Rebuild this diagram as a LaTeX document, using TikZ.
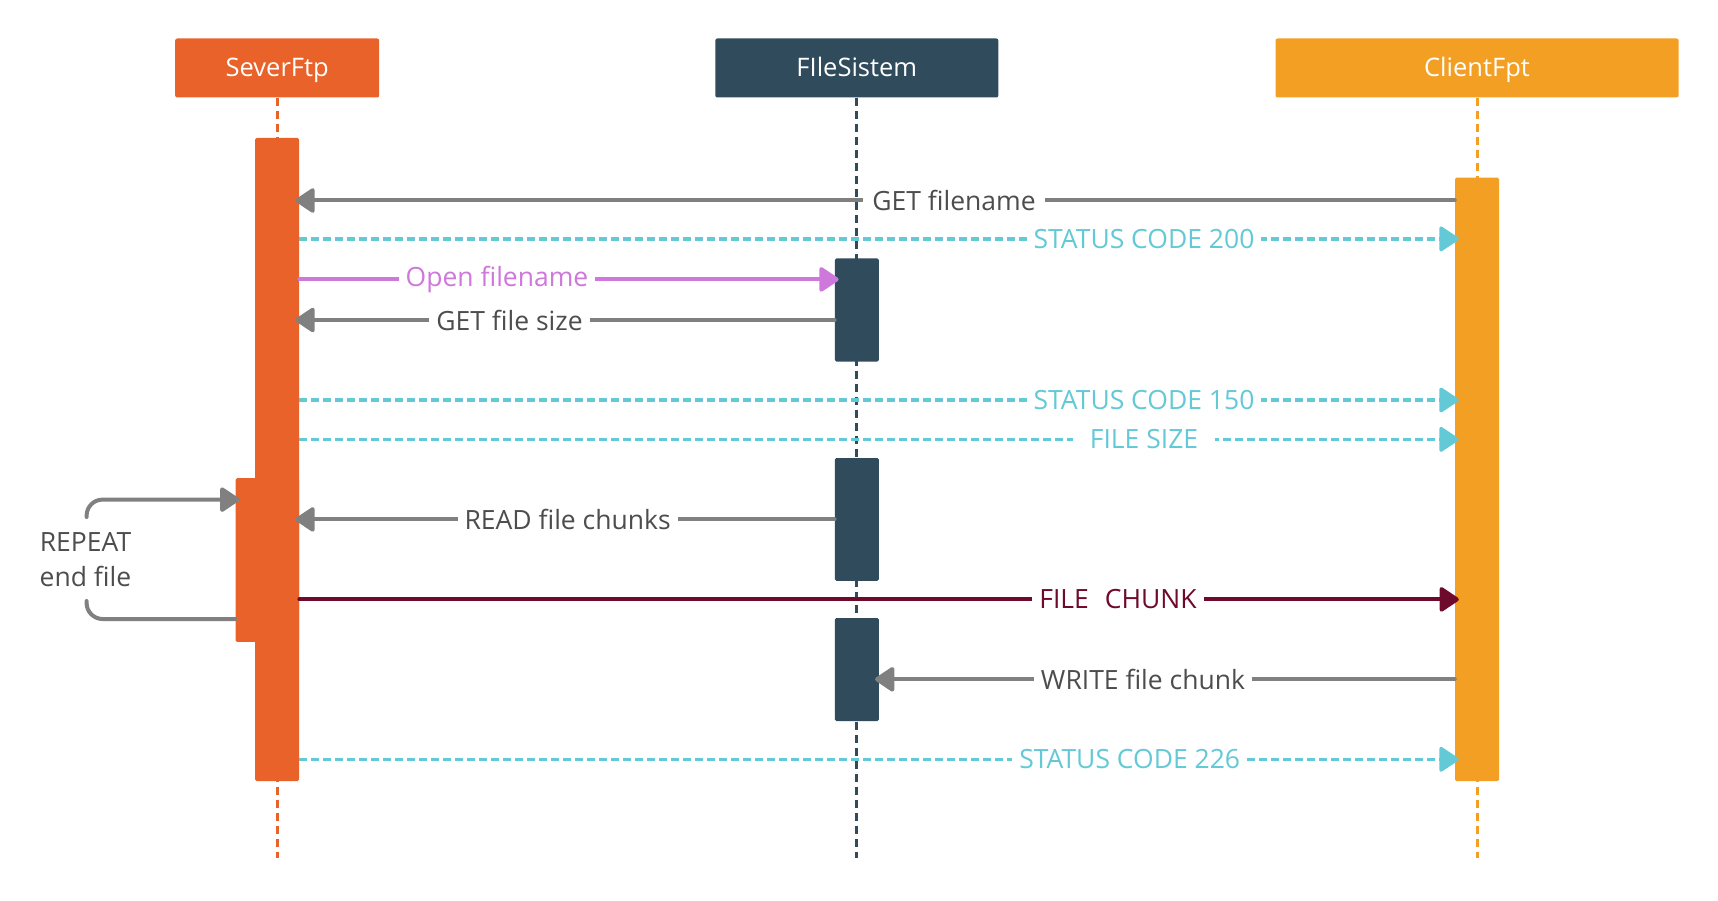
\documentclass[tikz,border=0pt]{standalone}
\usepackage{fontspec}
\setmainfont{Open Sans}
\usetikzlibrary{arrows.meta}
\definecolor{cSrv}{HTML}{E8622A}
\definecolor{cFs}{HTML}{2F4B5C}
\definecolor{cCli}{HTML}{F29F24}
\definecolor{cCyan}{HTML}{63C9D6}
\definecolor{cViolet}{HTML}{CF78DB}
\definecolor{cMaroon}{HTML}{6E0A2B}
\definecolor{cLine}{HTML}{808080}
\definecolor{cText}{HTML}{4D4D4D}
\newcommand\lblfont{\fontsize{26.5}{35}\selectfont}
\newcommand\hdfont{\fontsize{25.5}{30}\selectfont}
\tikzset{
  headbox/.style={rectangle, rounded corners=2pt, minimum height=59pt, inner sep=0pt, text=white, font=\hdfont, text height=21pt, text depth=3pt},
  actbox/.style={rectangle, rounded corners=1.5pt, minimum width=44pt, inner sep=0pt},
  lifeline/.style={line width=3pt, dash pattern=on 8pt off 5pt},
  tip/.style={-{Triangle[length=21pt,width=27pt,round]}, shorten >=-4pt},
  msgline/.style={line width=4pt, cLine, line cap=round, tip},
  plainline/.style={line width=4pt, cLine, line cap=round},
  retline/.style={line width=3.5pt, cCyan, dash pattern=on 8pt off 4pt, tip},
  openline/.style={line width=4pt, cViolet, line cap=round, tip},
  chunkline/.style={line width=4pt, cMaroon, line cap=round, tip},
  lbl/.style={fill=white, inner xsep=7pt, inner ysep=3pt, font=\lblfont, text=cText},
}
\begin{document}
\begin{tikzpicture}[x=1pt, y=-1pt]
\useasboundingbox (0,0) rectangle (1718,901);

% headers
\node[headbox, fill=cSrv, minimum width=204pt] (hs) at (277.2,68) {SeverFtp};
\node[headbox, fill=cFs, minimum width=283pt] (hf) at (856.8,68) {FIleSistem};
\node[headbox, fill=cCli, minimum width=403pt] (hc) at (1477,68) {ClientFpt};

% lifelines
\coordinate (es) at (277.2,858);
\coordinate (ef) at (856.8,858);
\coordinate (ec) at (1477,858);
\draw[lifeline, cSrv] (hs.south) -- (es);
\draw[lifeline, cFs] (hf.south) -- (ef);
\draw[lifeline, cCli] (hc.south) -- (ec);

% activations
\node[actbox, fill=cSrv, minimum width=63.4pt, minimum height=163.7pt] (sl) at (267.3,560) {};
\node[actbox, fill=cSrv, minimum height=643pt] (sa) at (277.2,459.5) {};
\node[actbox, fill=cFs, minimum height=103pt] (fa1) at (856.8,310) {};
\node[actbox, fill=cFs, minimum height=122.7pt] (fa2) at (856.8,519.4) {};
\node[actbox, fill=cFs, minimum height=103pt] (fa3) at (856.8,669.5) {};
\node[actbox, fill=cCli, minimum height=603.5pt] (ca) at (1477,479.3) {};

% messages
\draw[msgline] (ca.west |- 0,200.5) -- (sa.east |- 0,200.5);
\node[lbl, inner xsep=9pt] (m1) at (954,200.5) {GET filename};

\draw[retline] (sa.east |- 0,238.9) -- (ca.west |- 0,238.9);
\node[lbl, text=cCyan] (m2) at (1144,238.9) {STATUS CODE 200};

\draw[openline] (sa.east |- 0,279.4) -- (fa1.west |- 0,279.4);
\node[lbl, text=cViolet] (m3) at (497,279.4) {Open filename};

\draw[msgline] (fa1.west |- 0,320) -- (sa.east |- 0,320);
\node[lbl] (m4) at (509.5,320) {GET file size};

\draw[retline] (sa.east |- 0,400) -- (ca.west |- 0,400);
\node[lbl, text=cCyan] (m5) at (1144,400) {STATUS CODE 150};

\draw[retline] (sa.east |- 0,439.4) -- (ca.west |- 0,439.4);
\node[lbl, text=cCyan, inner xsep=17pt] (m6) at (1144,439.4) {FILE SIZE};

% loop
\coordinate (lpt) at (86.6,517);
\coordinate (lpb) at (86.6,601);
\draw[msgline, rounded corners=16pt] (lpt) |- (sl.west |- 0,499.6);
\draw[plainline, rounded corners=16pt] (sl.west |- 0,619) -| (lpb);
\node[font=\lblfont, text=cText, align=center, inner sep=0pt] (rep) at (85.5,559.5) {REPEAT\\end file};

\draw[msgline] (fa2.west |- 0,519.4) -- (sa.east |- 0,519.4);
\node[lbl] (m7) at (567.6,519.4) {READ file chunks};

\draw[chunkline] (sa.east |- 0,599.4) -- (ca.west |- 0,599.4);
\node[lbl, text=cMaroon] (m8) at (1118,599.4) {FILE\hspace{0.6em}CHUNK};

\draw[msgline] (ca.west |- 0,679.3) -- (fa3.east |- 0,679.3);
\node[lbl] (m9) at (1143,679.3) {WRITE file chunk};

\draw[retline] (sa.east |- 0,759.3) -- (ca.west |- 0,759.3);
\node[lbl, text=cCyan] (m10) at (1129.7,759.3) {STATUS CODE 226};
\end{tikzpicture}
\end{document}
